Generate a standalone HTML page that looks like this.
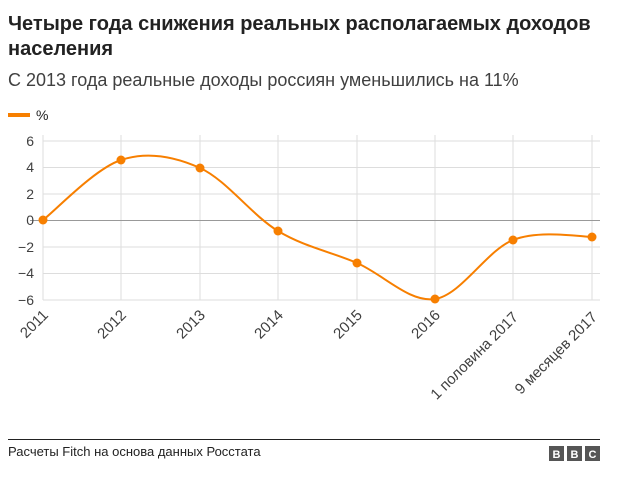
<!DOCTYPE html>
<html><head><meta charset="utf-8"><style>
body{margin:0;background:#fff;font-family:"Liberation Sans",Arial,sans-serif;}
</style></head><body>
<svg width="619" height="477" xmlns="http://www.w3.org/2000/svg" font-family="Liberation Sans, Arial, sans-serif">
<rect width="619" height="477" fill="#fff"/>
<text x="8" y="30" font-size="20" font-weight="bold" fill="#222">Четыре года снижения реальных располагаемых доходов</text>
<text x="8" y="55" font-size="20" font-weight="bold" fill="#222">населения</text>
<text x="8" y="86" font-size="18" fill="#404040">С 2013 года реальные доходы россиян уменьшились на 11%</text>
<rect x="8" y="113" width="22" height="4" fill="#f77f00"/>
<text x="36" y="120" font-size="14" fill="#222">%</text>
<g stroke="#ddd" stroke-width="1">
<line x1="43" y1="141" x2="600" y2="141"/><line x1="43" y1="167.5" x2="600" y2="167.5"/>
<line x1="43" y1="194" x2="600" y2="194"/><line x1="43" y1="247" x2="600" y2="247"/>
<line x1="43" y1="273.5" x2="600" y2="273.5"/><line x1="43" y1="300" x2="600" y2="300"/>
<line x1="43" y1="135" x2="43" y2="300"/><line x1="121" y1="135" x2="121" y2="300"/>
<line x1="200" y1="135" x2="200" y2="300"/><line x1="278" y1="135" x2="278" y2="300"/>
<line x1="357" y1="135" x2="357" y2="300"/><line x1="435" y1="135" x2="435" y2="300"/>
<line x1="513" y1="135" x2="513" y2="300"/><line x1="592" y1="135" x2="592" y2="300"/>
</g>
<line x1="30" y1="220.5" x2="600" y2="220.5" stroke="#999" stroke-width="1"/>
<g font-size="14" fill="#404040" text-anchor="end">
<text x="34" y="146">6</text><text x="34" y="172">4</text><text x="34" y="199">2</text>
<text x="34" y="225">0</text><text x="34" y="252">−2</text><text x="34" y="278">−4</text><text x="34" y="305">−6</text>
</g>
<g font-size="15" fill="#404040" text-anchor="end">
<text transform="translate(49,316) rotate(-45)">2011</text>
<text transform="translate(127,316) rotate(-45)">2012</text>
<text transform="translate(206,316) rotate(-45)">2013</text>
<text transform="translate(284,316) rotate(-45)">2014</text>
<text transform="translate(363,316) rotate(-45)">2015</text>
<text transform="translate(441,316) rotate(-45)">2016</text>
<text transform="translate(519,318) rotate(-45)">1 половина 2017</text>
<text transform="translate(598,318) rotate(-45)">9 месяцев 2017</text>
</g>
<path d="M43,220 C56,210 94.8,168.7 121,160 C147.2,151.3 173.8,156.2 200,168 C226.2,179.8 251.8,215.2 278,231 C304.2,246.8 330.8,251.7 357,263 C383.2,274.3 409,302.8 435,299 C461,295.2 486.8,250.3 513,240 C539.2,229.7 578.8,236.5 592,237" fill="none" stroke="#f77f00" stroke-width="2"/>
<g fill="#f77f00">
<circle cx="43" cy="220" r="4.5"/><circle cx="121" cy="160" r="4.5"/><circle cx="200" cy="168" r="4.5"/>
<circle cx="278" cy="231" r="4.5"/><circle cx="357" cy="263" r="4.5"/><circle cx="435" cy="299" r="4.5"/>
<circle cx="513" cy="240" r="4.5"/><circle cx="592" cy="237" r="4.5"/>
</g>
<line x1="8" y1="439.5" x2="600" y2="439.5" stroke="#222" stroke-width="1"/>
<text x="8" y="456" font-size="13" fill="#222">Расчеты Fitch на основа данных Росстата</text>
<g font-size="11" font-weight="bold" fill="#fff" text-anchor="middle">
<rect x="549" y="446" width="15" height="15" fill="#555"/><text x="556.5" y="458">B</text>
<rect x="567" y="446" width="15" height="15" fill="#555"/><text x="574.5" y="458">B</text>
<rect x="585" y="446" width="15" height="15" fill="#555"/><text x="592.5" y="458">C</text>
</g>
</svg>
</body></html>
